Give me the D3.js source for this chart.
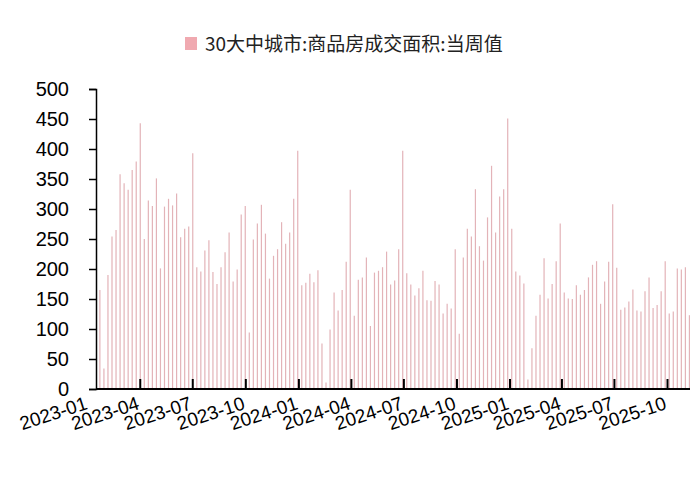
<!DOCTYPE html>
<html><head><meta charset="utf-8">
<script src="https://cdn.jsdelivr.net/npm/d3@7"></script>
<style>body{margin:0;background:#fff}</style>
</head><body>
<script>
// weekly values, first week 2023-01-21
const firstWeek = "2023-01-21";
const values = [
165,34,190,254,265,358,343,332,365,379,443,250,314,305,351,201,304,317,306,326,253,267,271,393,203,196,231,248,195,175,203,228,261,179,199,291,305,94,
249,276,307,259,184,222,233,278,242,261,317,397,173,177,192,178,198,76,11,99,161,131,165,212,332,122,182,186,219,105,194,197,203,229,174,181,233,397,
193,174,156,168,197,148,147,180,174,126,142,134,233,92,219,267,254,333,238,214,286,372,261,321,333,451,267,196,189,176,16,68,122,157,218,151,
175,213,276,161,151,150,173,157,165,186,207,213,142,179,212,308,202,132,136,146,166,131,129,163,186,135,140,163,213,126,129,201,199,203,123
];
const tickLabels = ["2023-01","2023-04","2023-07","2023-10","2024-01","2024-04","2024-07","2024-10","2025-01","2025-04","2025-07","2025-10"];
const yTicks = [0,50,100,150,200,250,300,350,400,450,500];
const seriesName = "30大中城市:商品房成交面积:当周值";

const W = 700, H = 477;
const svg = d3.select("body").append("svg").attr("width", W).attr("height", H)
  .style("font-family", "'Noto Sans CJK SC','Noto Sans',sans-serif");

const parse = d3.timeParse("%Y-%m-%d");
const t0 = parse(firstWeek);
const dates = values.map((v, i) => d3.timeDay.offset(t0, i * 7));

const x = d3.scaleTime()
  .domain([d3.timeDay.offset(t0, -5), d3.timeDay.offset(dates[dates.length - 1], 1)])
  .range([97, 690]);
const y = d3.scaleLinear().domain([0, 500]).range([389, 89]);

// bars
svg.append("g").selectAll("line").data(values).join("line")
  .attr("x1", (d, i) => x(dates[i])).attr("x2", (d, i) => x(dates[i]))
  .attr("y1", y(0)).attr("y2", d => y(d))
  .attr("stroke", "#e3b3b8").attr("stroke-width", 1.2);

// y axis
const yAxis = svg.append("g").attr("transform", "translate(96,0)")
  .call(d3.axisLeft(y).tickValues(yTicks).tickSize(7).tickPadding(20));
yAxis.select(".domain").attr("stroke", "#000").attr("stroke-width", 1.5);
yAxis.selectAll(".tick line").attr("stroke", "#000").attr("stroke-width", 1.5);
yAxis.selectAll("text").attr("font-size", 20).attr("fill", "#000")
  .attr("font-family", "'Liberation Sans',Arial,sans-serif");

// x axis
svg.append("line").attr("x1", 96).attr("x2", 690).attr("y1", 389).attr("y2", 389)
  .attr("stroke", "#000").attr("stroke-width", 2);
const tickDates = tickLabels.map(s => parse(s + "-01"));
svg.append("g").selectAll("line").data(tickDates.filter(d => x(d) > 97)).join("line")
  .attr("x1", d => x(d)).attr("x2", d => x(d)).attr("y1", 389).attr("y2", 379)
  .attr("stroke", "#000").attr("stroke-width", 2);
svg.append("g").selectAll("text").data(tickLabels).join("text")
  .attr("transform", (d, i) => `translate(${x(tickDates[i]) - 4},${396}) rotate(-18)`)
  .attr("text-anchor", "end").attr("dy", "0.7em")
  .attr("font-size", 19).attr("fill", "#000")
  .attr("font-family", "'Liberation Sans',Arial,sans-serif")
  .text(d => d);

// legend
const lg = svg.append("g").attr("transform", "translate(185,37)");
lg.append("rect").attr("width", 12).attr("height", 13).attr("fill", "#f0a9b0");
lg.append("text").attr("x", 20).attr("y", 14).attr("font-size", 19).attr("fill", "#222")
  .text(seriesName);
</script>
</body></html>
